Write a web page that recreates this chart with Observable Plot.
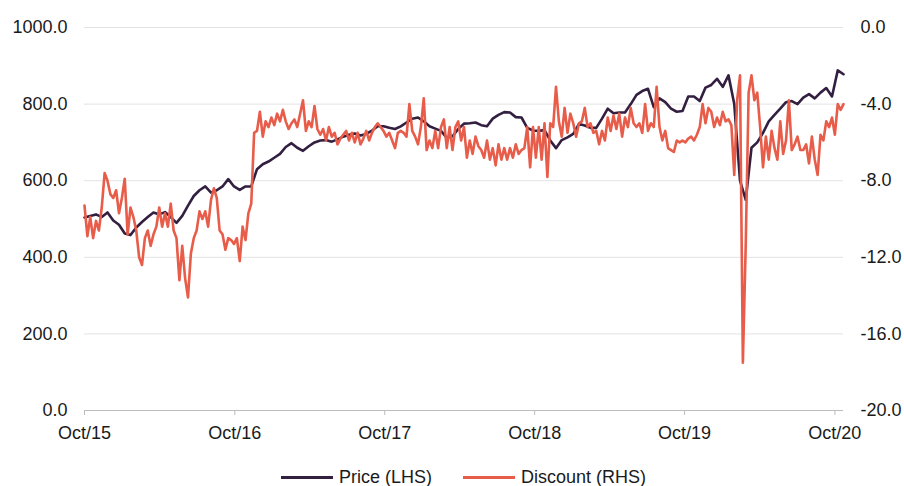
<!DOCTYPE html>
<html>
<head>
<meta charset="utf-8">
<script src="https://cdn.jsdelivr.net/npm/d3@7"></script>
<script src="https://cdn.jsdelivr.net/npm/@observablehq/plot@0.6"></script>
<style>
  html, body { margin: 0; padding: 0; background: #fff; overflow: hidden; }
  #wrap { position: relative; width: 904px; height: 486px; }
  #legend { position: absolute; top: 467px; left: 84px; width: 759px; display: flex; justify-content: center; align-items: center;
    font-family: 'Liberation Sans', Arial, sans-serif; font-size: 18px; line-height: 20px; color: #1a1a1a; white-space: nowrap; }
  .item { display: flex; align-items: center; }
  .sw { display: inline-block; width: 52px; height: 3px; margin-right: 6px; }
</style>
</head>
<body>
<div id="wrap">
  <div id="chart"></div>
  <div id="legend"></div>
</div>
<script>
// ---- data ----
const startDate = "2015-10-01";
const endDate = "2020-10-22";
const priceStepDays = 14;     // one price reading every two weeks
const discountStepDays = 7;   // one discount reading every week

const seriesNames = ["Price (LHS)", "Discount (RHS)"];
const seriesColors = ["#331f40", "#e85c4a"];

const price = [
  504,508,512,505,517,496,485,462,458,478,
  492,505,517,512,518,505,490,508,535,560,
  575,585,569,575,585,604,585,576,585,585,
  630,643,650,660,670,688,698,686,678,690,
  700,705,706,702,708,715,720,723,718,722,
  731,742,742,738,735,742,752,762,765,755,
  742,736,730,712,716,735,749,750,752,745,
  742,762,772,779,778,766,765,738,731,730,
  732,705,685,706,713,722,748,744,738,738,
  762,788,776,778,778,800,824,834,840,792,
  815,805,788,780,782,820,820,808,843,850,
  866,845,875,800,600,550,686,700,725,755,
  772,788,805,808,800,817,826,815,830,842,
  820,888,878
];

const discount = [
  -9.3,-10.9,-9.9,-11.0,-10.1,-10.6,-9.4,-7.6,-8.0,-8.7,
  -8.9,-8.5,-9.7,-8.9,-7.9,-10.8,-9.4,-9.9,-10.6,-12.0,
  -12.4,-11.0,-10.6,-11.4,-10.8,-10.4,-9.4,-10.4,-9.7,-10.4,
  -9.2,-10.6,-11.0,-13.2,-11.4,-13.1,-14.1,-11.8,-11.0,-10.6,
  -9.6,-10.0,-9.6,-10.4,-9.0,-8.4,-8.9,-10.6,-10.8,-11.6,
  -11.0,-11.1,-11.3,-11.0,-12.2,-10.4,-11.1,-9.7,-9.2,-5.5,
  -5.4,-4.4,-5.7,-4.9,-5.2,-4.7,-5.1,-4.5,-4.9,-4.3,
  -4.9,-5.3,-5.0,-4.8,-5.2,-4.5,-3.8,-5.4,-4.9,-5.2,
  -4.1,-5.3,-5.6,-5.3,-5.9,-5.2,-5.7,-5.5,-6.1,-5.8,
  -5.6,-5.4,-5.9,-5.5,-6.0,-5.5,-6.1,-5.8,-5.4,-5.9,
  -5.5,-5.2,-5.0,-5.2,-5.4,-5.7,-5.5,-5.9,-6.3,-5.5,
  -5.4,-5.5,-5.7,-4.0,-5.4,-5.7,-6.1,-5.2,-3.7,-6.4,
  -5.9,-6.3,-5.4,-6.3,-5.2,-4.8,-6.3,-5.2,-6.4,-5.2,
  -4.9,-5.9,-5.2,-6.8,-5.9,-6.6,-5.7,-6.2,-6.4,-6.8,
  -5.9,-6.9,-6.3,-7.2,-6.1,-6.9,-6.3,-6.9,-6.3,-6.8,
  -6.1,-6.6,-6.4,-6.3,-5.2,-7.3,-5.2,-6.8,-5.2,-6.9,
  -5.0,-7.8,-5.0,-5.2,-3.1,-4.9,-5.7,-4.2,-5.5,-4.5,
  -5.0,-5.7,-5.0,-4.9,-4.2,-5.2,-5.0,-5.5,-5.4,-6.1,
  -5.4,-5.9,-4.7,-5.4,-4.6,-5.3,-4.5,-5.7,-4.7,-5.2,
  -4.2,-5.0,-5.2,-5.0,-5.5,-4.0,-5.4,-5.0,-5.2,-3.1,
  -5.2,-5.9,-5.4,-6.3,-6.4,-6.5,-5.9,-6.0,-5.9,-6.0,
  -5.8,-5.7,-5.9,-5.6,-5.2,-4.0,-5.0,-4.2,-4.4,-5.2,
  -4.7,-5.1,-4.4,-4.9,-4.8,-5.1,-7.7,-3.8,-2.5,-17.5,
  -11.3,-3.4,-2.5,-3.8,-3.4,-5.2,-7.3,-5.7,-6.9,-5.4,
  -6.3,-6.9,-4.9,-6.6,-5.9,-3.8,-6.4,-6.1,-5.7,-6.4,
  -6.4,-6.1,-7.1,-5.7,-6.9,-7.7,-5.6,-5.9,-4.9,-5.2,
  -4.7,-5.6,-4.0,-4.3,-4.0
];

const xTickDates = ["2015-10-01","2016-10-01","2017-10-01","2018-10-01","2019-10-01","2020-10-01"];
const lhsTicks = [0, 200, 400, 600, 800, 1000];
const rhsTicks = [-20, -16, -12, -8, -4, 0];
const lhsDomain = [0, 1000];
const rhsDomain = [-20, 0];

// ---- build ----
const start = new Date(startDate + "T00:00:00Z");
const end = new Date(endDate + "T00:00:00Z");
const priceData = price.map((v, i) => ({date: d3.utcDay.offset(start, priceStepDays * i), value: v}));
const discountData = discount.map((v, i) => ({date: d3.utcDay.offset(start, discountStepDays * i), value: v}));

// map right-hand values onto the left-hand scale
const toLhs = d3.scaleLinear().domain(rhsDomain).range(lhsDomain);

const chart = Plot.plot({
  width: 904,
  height: 450,
  marginLeft: 84,
  marginRight: 61,
  marginTop: 27,
  marginBottom: 40,
  style: {fontFamily: "'Liberation Sans', Arial, sans-serif", fontSize: "18px", color: "#1a1a1a", background: "#fff", overflow: "visible"},
  x: {type: "utc", domain: [start, end]},
  y: {domain: lhsDomain},
  marks: [
    Plot.gridY(lhsTicks, {stroke: "#e3e3e3", strokeOpacity: 1}),
    Plot.axisY(lhsTicks, {anchor: "left", tickSize: 0, tickPadding: 17, tickFormat: d => d.toFixed(1), label: null, fill: "#1a1a1a"}),
    Plot.axisY(rhsTicks.map(v => toLhs(v)), {anchor: "right", tickSize: 0, tickPadding: 17, tickFormat: d => toLhs.invert(d).toFixed(1), label: null, fill: "#1a1a1a"}),
    Plot.axisX(xTickDates.map(s => new Date(s + "T00:00:00Z")), {tickSize: 5, tickPadding: 11, tickFormat: d3.utcFormat("%b/%y"), stroke: "#bdbdbd", fill: "#1a1a1a", label: null}),
    Plot.ruleY([0], {stroke: "#bdbdbd", strokeWidth: 1.2}),
    Plot.lineY(priceData, {x: "date", y: "value", stroke: seriesColors[0], strokeWidth: 2.6, strokeLinejoin: "round"}),
    Plot.lineY(discountData, {x: "date", y: d => toLhs(d.value), stroke: seriesColors[1], strokeWidth: 2.6, strokeLinejoin: "round"})
  ]
});
document.getElementById("chart").appendChild(chart);

// legend
const legend = document.getElementById("legend");
seriesNames.forEach((name, i) => {
  const item = document.createElement("span");
  item.className = "item";
  if (i > 0) item.style.marginLeft = "31px";
  const sw = document.createElement("span");
  sw.className = "sw";
  sw.style.background = seriesColors[i];
  const t = document.createElement("span");
  t.textContent = name;
  item.appendChild(sw);
  item.appendChild(t);
  legend.appendChild(item);
});
</script>
</body>
</html>
